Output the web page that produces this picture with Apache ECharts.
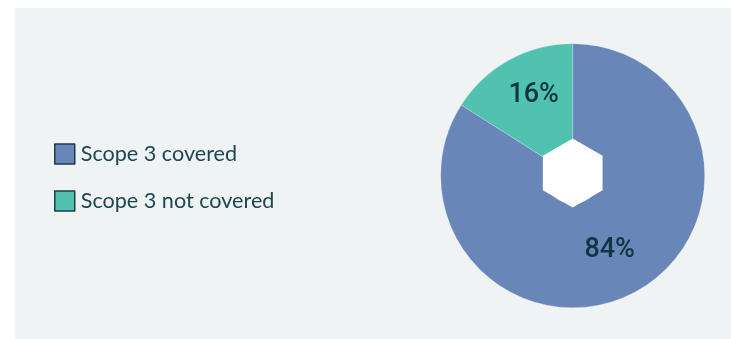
<!DOCTYPE html>
<html>
<head>
<meta charset="utf-8">
<title>Scope 3 coverage</title>
<script src="https://cdn.jsdelivr.net/npm/echarts@6/dist/echarts.min.js"></script>
<style>
  html, body { margin: 0; padding: 0; background: #ffffff; }
  #chart { width: 731px; height: 339px; }
</style>
</head>
<body>
<div id="chart"></div>
<script>
// Share of companies by Scope 3 coverage (percent)
const categories = ['Scope 3 covered', 'Scope 3 not covered'];
const shares = [84, 16];
const sliceColors = ['#6886b8', '#52c2b0'];

// Pie geometry
const cx = 572.7, cy = 175.7;
const outerR = 132;
const hexCx = 572.7, hexCy = 173;
const hexR = 34.5;          // circumradius of the centre hexagon
const labelNudge = [[-3, 2], [1, -8]];

const chart = echarts.init(document.getElementById('chart'), null, { renderer: 'canvas' });

// pointy-top hexagon in the middle of the pie
const hexPoints = [];
for (let i = 0; i < 6; i++) {
  const a = (-90 + 60 * i) * Math.PI / 180;
  hexPoints.push([hexCx + hexR * Math.cos(a), hexCy + hexR * Math.sin(a)]);
}

const option = {
  animation: false,
  graphic: [
    {
      type: 'rect',
      z: -10,
      silent: true,
      shape: { x: 15, y: 8, width: 731 - 15, height: 339 - 8 },
      style: { fill: '#eff3f3' }
    },
    {
      type: 'polygon',
      z: 100,
      silent: true,
      shape: { points: hexPoints },
      style: { fill: '#ffffff' }
    }
  ],
  legend: {
    orient: 'vertical',
    left: 49,
    top: 138,
    itemWidth: 20,
    itemHeight: 20,
    itemGap: 25,
    icon: 'rect',
    data: categories,
    itemStyle: { borderColor: '#1d3c44', borderWidth: 1.5 },
    textStyle: {
      fontFamily: 'Lato',
      fontSize: 21.6,
      color: '#1d4750',
      padding: [0, 0, 0, 1]
    }
  },
  series: [
    {
      type: 'pie',
      center: [cx, cy],
      radius: [28, outerR],
      startAngle: 90,
      clockwise: true,
      silent: true,
      itemStyle: { borderColor: 'rgba(255,255,255,0.35)', borderWidth: 0.6 },
      label: {
        show: true,
        position: 'inside',
        formatter: '{c}%',
        fontFamily: 'Roboto',
        fontWeight: 500,
        fontSize: 27,
        color: '#0e3540'
      },
      labelLine: { show: false },
      data: categories.map((name, i) => ({
        name: name,
        value: shares[i],
        itemStyle: { color: sliceColors[i] },
        label: { offset: labelNudge[i] }
      }))
    }
  ]
};

chart.setOption(option);
</script>
</body>
</html>
